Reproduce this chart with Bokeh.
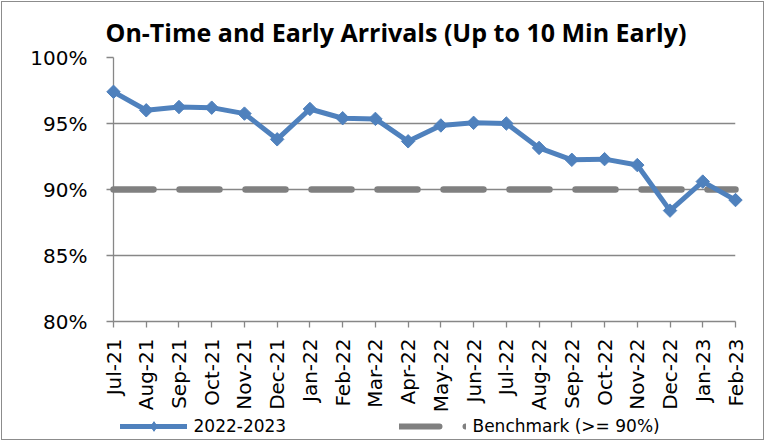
import numpy as np
from bokeh.plotting import figure
from bokeh.layouts import column
from bokeh.models import FixedTicker, Legend, LegendItem, Range1d
from bokeh.embed import file_html
from bokeh.resources import INLINE

# ---------------- data ----------------
months = ["Jul-21", "Aug-21", "Sep-21", "Oct-21", "Nov-21", "Dec-21", "Jan-22",
          "Feb-22", "Mar-22", "Apr-22", "May-22", "Jun-22", "Jul-22", "Aug-22",
          "Sep-22", "Oct-22", "Nov-22", "Dec-22", "Jan-23", "Feb-23"]
on_time = [97.4, 96.0, 96.25, 96.2, 95.75, 93.8, 96.1, 95.4, 95.35, 93.65,
           94.85, 95.05, 95.0, 93.15, 92.25, 92.3, 91.85, 88.4, 90.6, 89.2]
benchmark = [90, 90, 90, 90, 90, 90, 90, 90, 90, 90,
             90, 90, 90, 90, 90, 90, 90, 90, 90, 90]
y_ticks = [80, 85, 90, 95, 100]
y_tick_labels = ["80%", "85%", "90%", "95%", "100%"]
series_name = "2022-2023"
bench_name = "Benchmark (>= 90%)"
title_text = "On-Time and Early Arrivals (Up to 10 Min Early)"

x = list(range(len(months)))

BLUE = "#4F81BD"
GRAY = "#808080"
GRID = "#878787"
FONT = "DejaVu Sans"
W = 761

# ---------------- main chart ----------------
p = figure(width=W, height=413, output_backend="svg", toolbar_location=None,
           x_range=Range1d(0, len(months) - 1), y_range=Range1d(80, 100),
           min_border_left=111, min_border_right=28, min_border_top=55,
           min_border_bottom=94, background_fill_color="white",
           border_fill_color="white", outline_line_color=None,
           title=title_text)

p.title.align = "left"
p.title.offset = -8
p.title.text_font = "Open Sans"
p.title.text_font_style = "bold"
p.title.text_font_size = "25px"
p.title.text_color = "black"
p.title.standoff = 17

# x axis
p.xaxis.ticker = FixedTicker(ticks=x)
p.xaxis.major_label_overrides = {i: m for i, m in zip(x, months)}
p.xaxis.major_label_orientation = np.pi / 2
p.xaxis.major_tick_out = 6
p.xaxis.major_tick_in = 0
p.xaxis.minor_tick_line_color = None
p.xaxis.axis_line_color = GRID
p.xaxis.axis_line_width = 1.3
p.xaxis.major_tick_line_color = GRID
p.xaxis.major_tick_line_width = 1.3
p.xaxis.major_label_text_font = FONT
p.xaxis.major_label_text_font_size = "20px"
p.xaxis.major_label_text_color = "black"
p.xaxis.major_label_standoff = 11

# y axis
p.yaxis.ticker = FixedTicker(ticks=y_ticks)
p.yaxis.major_label_overrides = {t: l for t, l in zip(y_ticks, y_tick_labels)}
p.yaxis.major_tick_out = 7
p.yaxis.major_tick_in = 0
p.yaxis.minor_tick_line_color = None
p.yaxis.axis_line_color = GRID
p.yaxis.axis_line_width = 1.3
p.yaxis.major_tick_line_color = GRID
p.yaxis.major_tick_line_width = 1.3
p.yaxis.major_label_text_font = FONT
p.yaxis.major_label_text_font_size = "20px"
p.yaxis.major_label_text_color = "black"
p.yaxis.major_label_standoff = 19

p.xgrid.visible = False
p.ygrid.ticker = FixedTicker(ticks=y_ticks)
p.ygrid.grid_line_color = GRID
p.ygrid.grid_line_width = 1.3

# renderers
p.line(x, benchmark, line_color=GRAY, line_width=6.5,
       line_dash="40 26", line_cap="round", level="overlay")
p.line(x, on_time, line_color=BLUE, line_width=5,
       line_join="round", line_cap="round", level="overlay")
p.scatter(x, on_time, marker="square", size=9.5, angle=np.pi / 4,
          fill_color=BLUE, line_color=BLUE, level="overlay")

# ---------------- legend strip (frame aligned with the chart's frame) ----------------
lg = figure(width=W, height=24, output_backend="svg", toolbar_location=None,
            x_range=Range1d(0, len(months) - 1), y_range=Range1d(0, 1),
            x_axis_type=None, y_axis_type=None,
            min_border_left=0, min_border_right=0, min_border_top=0,
            min_border_bottom=0, outline_line_color=None,
            background_fill_color="white", border_fill_color="white")
lg.grid.visible = False

# legend proxies: same series, but outside this strip's y-range (so only the legend shows)
l_line = lg.line(x, on_time, line_color=BLUE, line_width=5, line_cap="round")
l_mark = lg.scatter(x, on_time, marker="diamond",
                    fill_color=BLUE, line_color=BLUE)
# benchmark sample: one long dash, then a single round dot at the glyph's end
l_bench = lg.line(x, benchmark, line_color=GRAY, line_width=6,
                  line_dash="40 26 0 100", line_cap="round")

legend = Legend(items=[LegendItem(label=series_name, renderers=[l_line, l_mark]),
                       LegendItem(label=bench_name, renderers=[l_bench])],
                location=(6.5, 1.3), orientation="horizontal",
                glyph_width=67, glyph_height=24, label_height=24,
                label_width=100, label_standoff=7, padding=0,
                margin=0, spacing=105, border_line_color=None,
                background_fill_alpha=0, label_text_font=FONT,
                label_text_font_size="17px", label_text_color="black")
lg.add_layout(legend, "center")

layout = column(p, lg, spacing=0,
                styles={"border": "1px solid #8c8c8c", "margin-left": "1px",
                        "margin-top": "1px"})

open("out.html", "w").write(file_html(layout, INLINE))
